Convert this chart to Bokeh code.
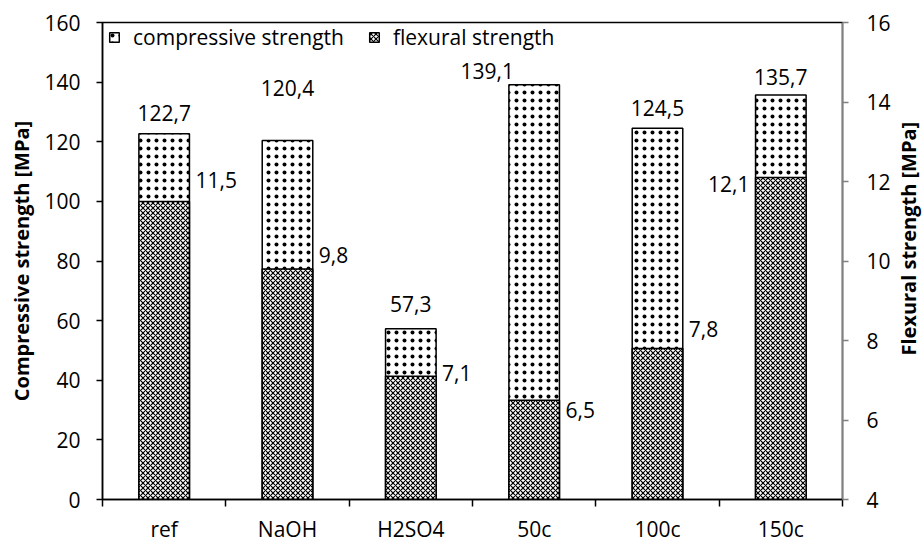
import numpy as np
from bokeh.plotting import figure
from bokeh.layouts import row
from bokeh.models import (Range1d, LinearAxis, FixedTicker, Legend, LegendItem,
                          ColumnDataSource)
from bokeh.core.properties import value
from bokeh.embed import file_html
from bokeh.resources import INLINE

categories = ["ref", "NaOH", "H2SO4", "50c", "100c", "150c"]
compressive = [122.7, 120.4, 57.3, 139.1, 124.5, 135.7]
flexural = [11.5, 9.8, 7.1, 6.5, 7.8, 12.1]
left_ticks = [0, 20, 40, 60, 80, 100, 120, 140, 160]
right_ticks = [4, 6, 8, 10, 12, 14, 16]
left_title = "Compressive strength [MPa]"
right_title = "Flexural strength [MPa]"

FONT = "Open Sans"
FS = "21px"
n = len(categories)
xs = np.arange(n) + 0.5

p = figure(width=893, height=545, output_backend="svg", toolbar_location=None,
           x_range=Range1d(0, n), y_range=Range1d(left_ticks[0], left_ticks[-1]),
           min_border_left=102, min_border_right=49, min_border_top=22,
           min_border_bottom=45)
p.extra_y_ranges = {"flex": Range1d(right_ticks[0], right_ticks[-1])}
p.xgrid.visible = False
p.ygrid.visible = False
p.outline_line_color = "black"
p.outline_line_width = 1.5
p.background_fill_color = "white"
p.border_fill_color = "white"

# x axis: labels at centres, ticks at category boundaries
xa = p.xaxis[0]
xa.ticker = FixedTicker(ticks=list(xs), minor_ticks=list(range(n + 1)))
xa.major_label_overrides = {float(x): c for x, c in zip(xs, categories)}
xa.major_tick_out = 0
xa.major_tick_in = 0
xa.minor_tick_out = 7
xa.minor_tick_in = 0
xa.minor_tick_line_color = "black"
xa.minor_tick_line_width = 1.5
xa.axis_line_color = "black"
xa.axis_line_width = 1.5
xa.major_label_text_font = FONT
xa.major_label_text_font_size = FS
xa.major_label_text_color = "black"
xa.major_label_standoff = 8

ya = p.yaxis[0]
ya.ticker = FixedTicker(ticks=left_ticks)
ya.minor_tick_out = 0
ya.minor_tick_in = 0
ya.major_tick_out = 6
ya.major_tick_in = 0
ya.major_tick_line_width = 1.5
ya.axis_line_width = 1.5
ya.major_label_text_font = FONT
ya.major_label_text_font_size = FS
ya.major_label_text_color = "black"
ya.major_label_standoff = 16
ya.axis_label = left_title
ya.axis_label_text_font = FONT
ya.axis_label_text_font_size = "20px"
ya.axis_label_text_font_style = "bold"
ya.axis_label_text_color = "black"
ya.axis_label_standoff = 6

ra = LinearAxis(y_range_name="flex", ticker=FixedTicker(ticks=right_ticks))
ra.minor_tick_out = 0
ra.minor_tick_in = 0
ra.major_tick_out = 6
ra.major_tick_in = 0
ra.major_tick_line_color = "#808080"
ra.major_tick_line_width = 1.5
ra.axis_line_color = "#808080"
ra.axis_line_width = 1.5
ra.major_label_text_font = FONT
ra.major_label_text_font_size = FS
ra.major_label_text_color = "black"
ra.major_label_standoff = 18
p.add_layout(ra, "right")

BW = 0.41
comp_src = ColumnDataSource(dict(x=xs, top=compressive, bottom=[0] * n))
flex_src = ColumnDataSource(dict(x=xs, top=flexural, bottom=[right_ticks[0]] * n))

r_comp = p.vbar(x="x", top="top", bottom="bottom", width=BW, source=comp_src,
                fill_color="white", line_color="black", line_width=1.5,
                hatch_pattern="dot", hatch_scale=8, hatch_weight=1,
                hatch_color="black")
r_flex = p.vbar(x="x", top="top", bottom="bottom", width=BW, source=flex_src,
                y_range_name="flex",
                fill_color="white", line_color="black", line_width=1.5,
                hatch_pattern="diagonal_cross", hatch_scale=5, hatch_weight=1.2,
                hatch_color="black")

# data labels
fmt = lambda v: f"{v:.1f}".replace(".", ",")
comp_dx = [0, 0, 0, -47, 0, 0]
comp_dy = [-21, -53, -25, -14, -20, -18]
lab_c = ColumnDataSource(dict(x=xs, y=compressive, t=[fmt(v) for v in compressive],
                              dx=comp_dx, dy=comp_dy))
p.text(x="x", y="y", text="t", source=lab_c, x_offset="dx", y_offset="dy",
       text_align="center", text_baseline="middle", text_font=value(FONT),
       text_font_size=FS, text_color="black")

flex_side = [1, 1, 1, 1, 1, -1]
flex_dy = [-21, -14, -3, 10, -19, 6]
fx = [x + s * (BW / 2) for x, s in zip(xs, flex_side)]
fdx = [s * 6 for s in flex_side]
falign = ["left" if s > 0 else "right" for s in flex_side]
lab_f = ColumnDataSource(dict(x=fx, y=flexural, t=[fmt(v) for v in flexural],
                              dx=fdx, dy=flex_dy, al=falign))
p.text(x="x", y="y", text="t", source=lab_f, x_offset="dx", y_offset="dy",
       y_range_name="flex", text_align="al", text_baseline="middle",
       text_font=value(FONT), text_font_size=FS, text_color="black")

legend = Legend(items=[LegendItem(label="compressive strength", renderers=[r_comp]),
                       LegendItem(label="flexural strength", renderers=[r_flex])],
                location=(6, 448), orientation="horizontal",
                label_text_font=FONT, label_text_font_size=FS,
                label_text_color="black", glyph_width=12, glyph_height=12,
                label_standoff=13, spacing=24, border_line_color=None,
                background_fill_alpha=0, margin=0, padding=7)
p.add_layout(legend)

# narrow strip on the right carrying the secondary-axis title (bottom-to-top)
t = figure(width=30, height=545, output_backend="svg", toolbar_location=None,
           x_range=Range1d(0, 30), y_range=Range1d(0, 545),
           x_axis_type=None, y_axis_type=None, min_border=0)
t.xgrid.visible = False
t.ygrid.visible = False
t.outline_line_color = None
t.background_fill_color = "white"
t.border_fill_color = "white"
t.text(x=[15], y=[298], text=[right_title], angle=np.pi / 2,
       text_align="center", text_baseline="middle", text_font=value(FONT),
       text_font_size="20px", text_font_style="bold", text_color="black")

layout = row(p, t, spacing=0)
open("out.html", "w").write(file_html(layout, INLINE))
